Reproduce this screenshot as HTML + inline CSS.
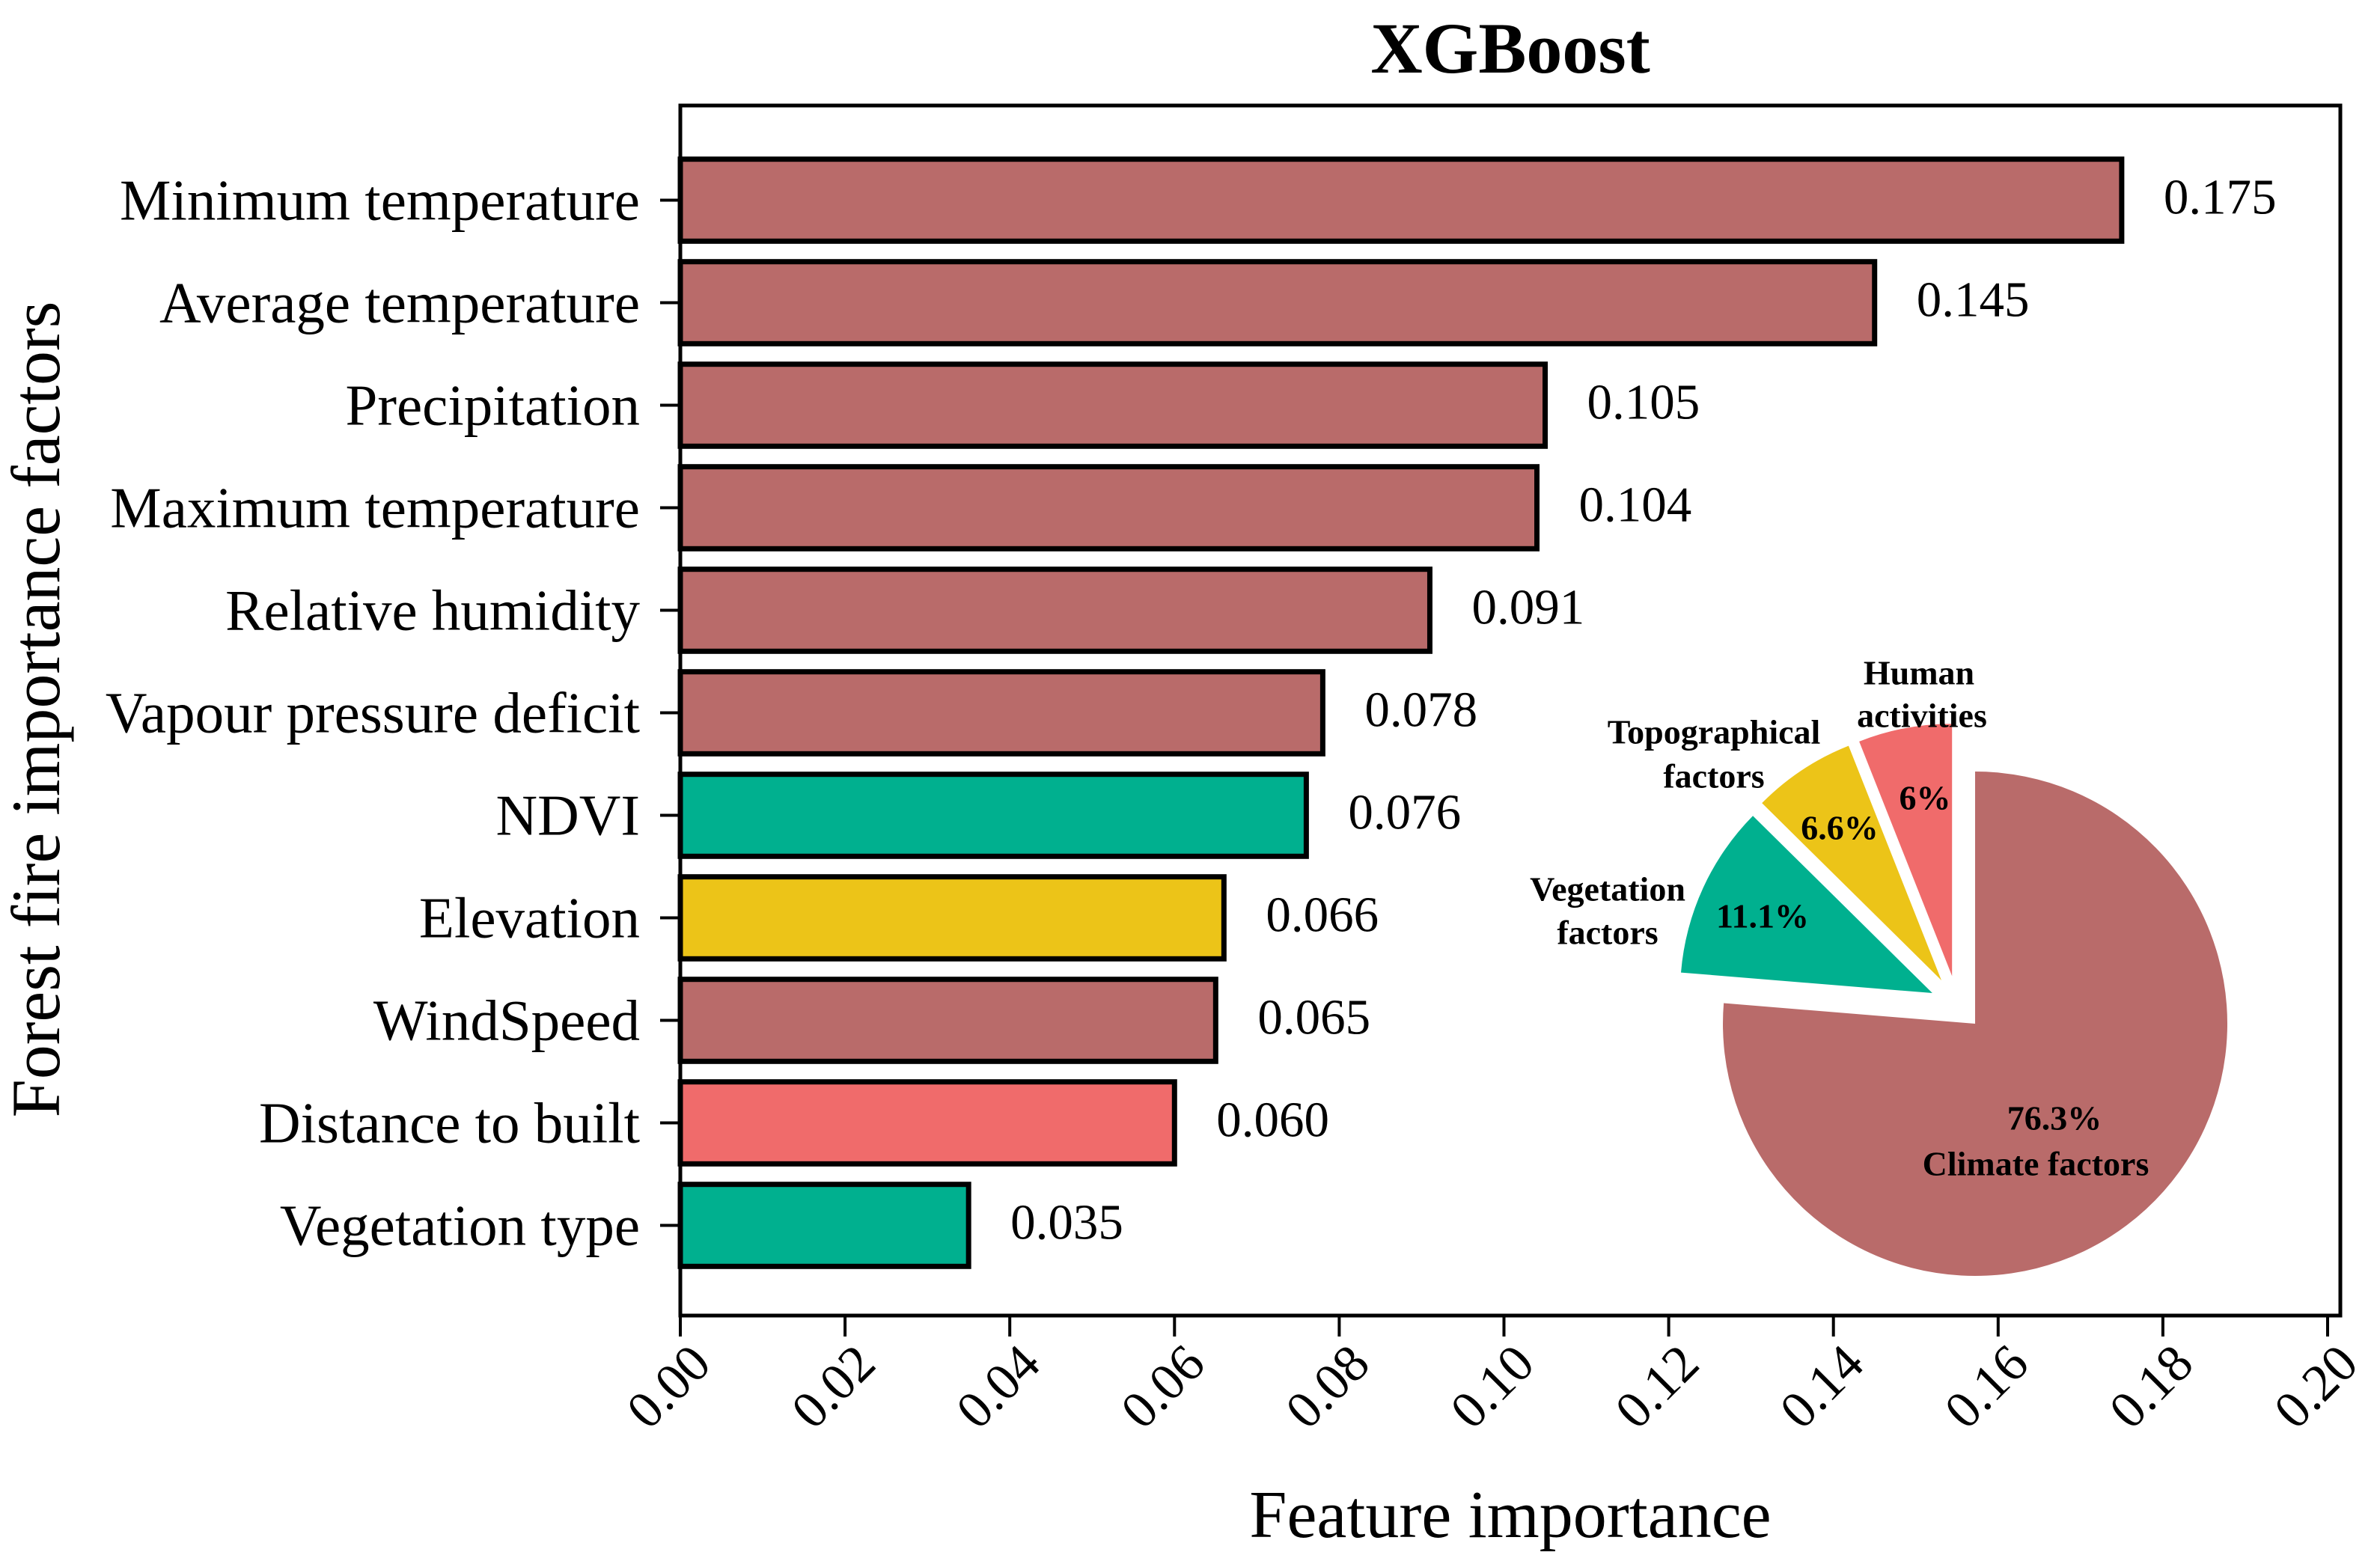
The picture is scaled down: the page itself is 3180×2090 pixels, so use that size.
<!DOCTYPE html>
<html><head><meta charset="utf-8"><style>
html,body{margin:0;padding:0;background:#fff;}
svg{display:block;font-family:"Liberation Serif","Times New Roman",serif;}
</style></head><body>
<svg id="chart" width="3180" height="2090" viewBox="0 0 3180 2090" xmlns="http://www.w3.org/2000/svg">
<rect x="0" y="0" width="3180" height="2090" fill="#fff"/>
<text x="2018" y="97" text-anchor="middle" font-size="96" font-weight="bold">XGBoost</text>
<g id="bars"></g>
<g id="pie"></g>
<rect x="909" y="141" width="2218" height="1617" fill="none" stroke="#000" stroke-width="5"/>
<g id="axes"></g>
<text x="2018" y="2054" text-anchor="middle" font-size="90">Feature importance</text>
<text transform="translate(79,948) rotate(-90)" text-anchor="middle" font-size="92">Forest fire importance factors</text>
</svg>
<script>
const categories = ["Minimum temperature","Average temperature","Precipitation","Maximum temperature","Relative humidity","Vapour pressure deficit","NDVI","Elevation","WindSpeed","Distance to built","Vegetation type"];
const values = [0.175,0.145,0.105,0.104,0.091,0.078,0.076,0.066,0.065,0.060,0.035];
const valueLabels = ["0.175","0.145","0.105","0.104","0.091","0.078","0.076","0.066","0.065","0.060","0.035"];
const groups = ["climate","climate","climate","climate","climate","climate","vegetation","topographical","climate","human","vegetation"];
const xTicks = [0,0.02,0.04,0.06,0.08,0.10,0.12,0.14,0.16,0.18,0.20];
const xTickLabels = ["0.00","0.02","0.04","0.06","0.08","0.10","0.12","0.14","0.16","0.18","0.20"];
const pieNames = ["Human activities","Topographical factors","Vegetation factors","Climate factors"];
const pieShares = [6.0,6.6,11.1,76.3];
const pieLabels = ["6%","6.6%","11.1%","76.3%"];

const colors = {climate:"#b96b6a", vegetation:"#00b08f", topographical:"#ecc418", human:"#f06b6b"};
const pieColors = ["#f06b6b","#ecc418","#00b08f","#b96b6a"];
const NS = "http://www.w3.org/2000/svg";
function xs(v){ return 909 + v*11005; }
function ys(i){ return 267.5 + i*137; }
const barH = 109.6;
function mk(tag, attrs, parent){ const e=document.createElementNS(NS,tag); for(const k in attrs) e.setAttribute(k,attrs[k]); parent.appendChild(e); return e; }

const bars = document.getElementById('bars');
const axes = document.getElementById('axes');
categories.forEach((c,i)=>{
  const r = mk('rect',{x:xs(0),y:ys(i)-barH/2,width:xs(values[i])-xs(0),height:barH,fill:colors[groups[i]],stroke:'#000','stroke-width':7},bars);
  
  
  const t = mk('text',{x:xs(values[i])+56,y:ys(i)-4,'font-size':67,'dominant-baseline':'central'},bars);
  t.textContent = valueLabels[i];
  
  
  const tk = mk('line',{x1:882,x2:909,y1:ys(i),y2:ys(i),stroke:'#000','stroke-width':4},axes);
  
  
  const lb = mk('text',{x:855,y:ys(i),'font-size':77,'text-anchor':'end','dominant-baseline':'central'},axes);
  lb.textContent = c;
  
  
});
xTicks.forEach((v,i)=>{
  const tk = mk('line',{x1:xs(v),x2:xs(v),y1:1758,y2:1786,stroke:'#000','stroke-width':4},axes);
  
  
  const ax = xs(v)+44, ay = 1826;
  const lb = mk('text',{x:ax,y:ay,'font-size':70,'text-anchor':'end',transform:`rotate(-45 ${ax} ${ay})`},axes);
  lb.textContent = xTickLabels[i];
  
  
});

// pie
const pie = document.getElementById('pie');
const P = [2615.5,1342.5], R = 337;
const explode = [39,39,37,34.7];
const total = pieShares.reduce((a,b)=>a+b,0);
let ang = 90;
pieShares.forEach((s,i)=>{
  const a0 = ang, a1 = ang + s/total*360; ang = a1;
  const mid = (a0+a1)/2*Math.PI/180;
  const cx = P[0] + explode[i]*Math.cos(mid), cy = P[1] - explode[i]*Math.sin(mid);
  const r0 = a0*Math.PI/180, r1 = a1*Math.PI/180;
  const x0 = cx + R*Math.cos(r0), y0 = cy - R*Math.sin(r0);
  const x1 = cx + R*Math.cos(r1), y1 = cy - R*Math.sin(r1);
  const large = (a1-a0)>180?1:0;
  const p = mk('path',{d:`M${cx},${cy} L${x0},${y0} A${R},${R} 0 ${large} 0 ${x1},${y1} Z`,fill:pieColors[i]},pie);
  
  
});
const pieText = [
  ["Human",2564,899],["activities",2568,956],
  ["Topographical",2290,978],["factors",2290,1037],
  ["Vegetation",2148,1188],["factors",2148,1246],
  [pieLabels[0],2572,1066],[pieLabels[1],2458,1106],[pieLabels[2],2355,1224],
  [pieLabels[3],2745,1494],["Climate factors",2720,1555]
];
pieText.forEach(d=>{
  const t = mk('text',{x:d[1],y:d[2],'font-size':46,'font-weight':'bold','text-anchor':'middle','dominant-baseline':'central'},pie);
  t.textContent = d[0];
  
  
});
</script>
</body></html>
